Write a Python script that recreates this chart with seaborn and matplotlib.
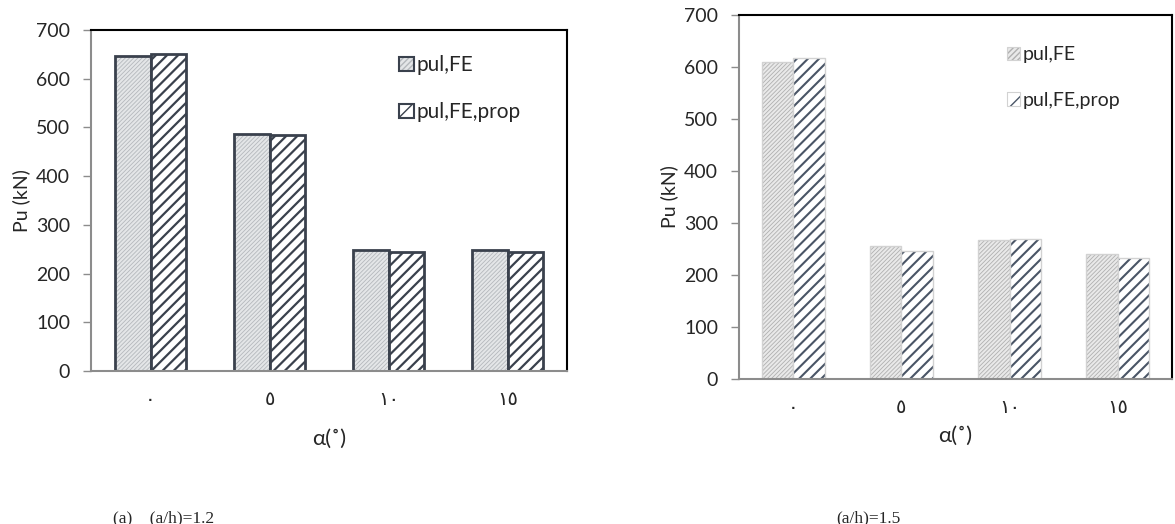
import matplotlib
matplotlib.use("Agg")
import matplotlib.pyplot as plt
import matplotlib.colors as mcolors
from matplotlib.patches import Patch
import seaborn as sns
import pandas as pd

# ---- data ----
categories = ["٠", "٥", "١٠", "١٥"]
series_names = ["pul,FE", "pul,FE,prop"]
left_fe = [647, 486, 248, 248]
left_prop = [651, 484, 245, 245]
right_fe = [610, 255, 268, 241]
right_prop = [617, 247, 270, 232]
yticks = [0, 100, 200, 300, 400, 500, 600, 700]
captions = ["(a)    (a/h)=1.2", "(a/h)=1.5"]

sns.set_theme(style="white")
plt.rcParams["font.family"] = ["Lato", "DejaVu Sans"]

fig = plt.figure(figsize=(11.75, 5.24), dpi=100)
axL = fig.add_axes([91/1175, (524-371)/524, 476/1175, 341/524])
axR = fig.add_axes([739/1175, (524-379)/524, 433/1175, 364/524])


def make_df(a, b):
    return pd.DataFrame({
        "alpha": categories * 2,
        "series": [series_names[0]] * 4 + [series_names[1]] * 4,
        "value": list(a) + list(b),
    })


def style_bars(ax, styles):
    for cont, st in zip(ax.containers, styles):
        for p in cont:
            p.set_facecolor(st["fc"])
            p.set_edgecolor(st["ec"])
            p.set_linewidth(st["lw"])
            p.set_hatch(st["hatch"])
            p._hatch_color = mcolors.to_rgba(st["hc"])
            if hasattr(p, "set_hatch_linewidth"):
                p.set_hatch_linewidth(st["hlw"])
            p.stale = True


def legend_handles(styles):
    hs = []
    for st in styles:
        h = Patch(facecolor=st["fc"], edgecolor=st["lec"], linewidth=st["llw"],
                  hatch=st["lhatch"])
        h._hatch_color = mcolors.to_rgba(st["hc"])
        if hasattr(h, "set_hatch_linewidth"):
            h.set_hatch_linewidth(st["hlw"])
        hs.append(h)
    return hs


def setup_axis(ax, xlabel_pad, tick_pad):
    ax.set_ylim(0, 700)
    ax.set_yticks(yticks)
    ax.set_xlim(-0.5, 3.5)
    ax.set_ylabel("Pu (kN)", fontsize=14, labelpad=4)
    ax.set_xlabel("α(˚)", fontsize=16, labelpad=xlabel_pad,
                  fontfamily=["Lato", "DejaVu Sans"])
    ax.tick_params(axis="y", which="both", left=True, length=6, width=1,
                   color="#8c8c8c", labelsize=14, pad=9)
    ax.tick_params(axis="x", bottom=False, length=0, pad=tick_pad)
    for lab in ax.get_xticklabels():
        lab.set_fontfamily(["DejaVu Sans"])
        lab.set_fontsize(14)
    for s in ["left", "bottom"]:
        ax.spines[s].set_color("#8c8c8c")
        ax.spines[s].set_linewidth(1.5)
    for s in ["top", "right"]:
        ax.spines[s].set_color("black")
        ax.spines[s].set_linewidth(1.5)
        ax.spines[s].set_visible(True)


# ---- left chart ----
sns.barplot(data=make_df(left_fe, left_prop), x="alpha", y="value", hue="series",
            order=categories, hue_order=series_names, width=0.6, ax=axL,
            legend=False, errorbar=None)
stylesL = [
    dict(fc="#e4e6e8", ec="#3a414d", lw=2.0, hatch="////////", hc="#b4b8bc", hlw=0.6,
         lec="#3a414d", llw=1.5, lhatch="//////"),
    dict(fc="white", ec="#3a414d", lw=2.0, hatch="///", hc="#3a414d", hlw=1.6,
         lec="#3a414d", llw=1.5, lhatch="//"),
]
style_bars(axL, stylesL)
setup_axis(axL, xlabel_pad=14, tick_pad=14)
axL.legend(handles=legend_handles(stylesL), labels=series_names, loc="upper left",
           bbox_to_anchor=(0.63, 0.95), frameon=False, fontsize=15,
           handlelength=0.7, handleheight=0.7, handletextpad=0.15,
           labelspacing=1.3, borderaxespad=0)

# ---- right chart ----
sns.barplot(data=make_df(right_fe, right_prop), x="alpha", y="value", hue="series",
            order=categories, hue_order=series_names, width=0.58, ax=axR,
            legend=False, errorbar=None)
stylesR = [
    dict(fc="#e9e9e9", ec="#d2d2d2", lw=1.0, hatch="////////", hc="#b0b0b0", hlw=0.6,
         lec="#d2d2d2", llw=0.8, lhatch="//////"),
    dict(fc="white", ec="#d2d2d2", lw=1.0, hatch="///", hc="#4a5566", hlw=1.5,
         lec="#d2d2d2", llw=0.8, lhatch="//"),
]
style_bars(axR, stylesR)
setup_axis(axR, xlabel_pad=6, tick_pad=14)
axR.legend(handles=legend_handles(stylesR), labels=series_names, loc="upper left",
           bbox_to_anchor=(0.6, 0.935), frameon=False, fontsize=14,
           handlelength=0.7, handleheight=0.7, handletextpad=0.15,
           labelspacing=1.45, borderaxespad=0)

# ---- captions ----
fig.text(113/1175, 1 - 518/524, captions[0], fontsize=12.5, va="center", ha="left",
         fontfamily=["Liberation Serif"])
fig.text(836/1175, 1 - 518/524, captions[1], fontsize=12.5, va="center", ha="left",
         fontfamily=["Liberation Serif"])

fig.savefig("out.png", dpi=100)
